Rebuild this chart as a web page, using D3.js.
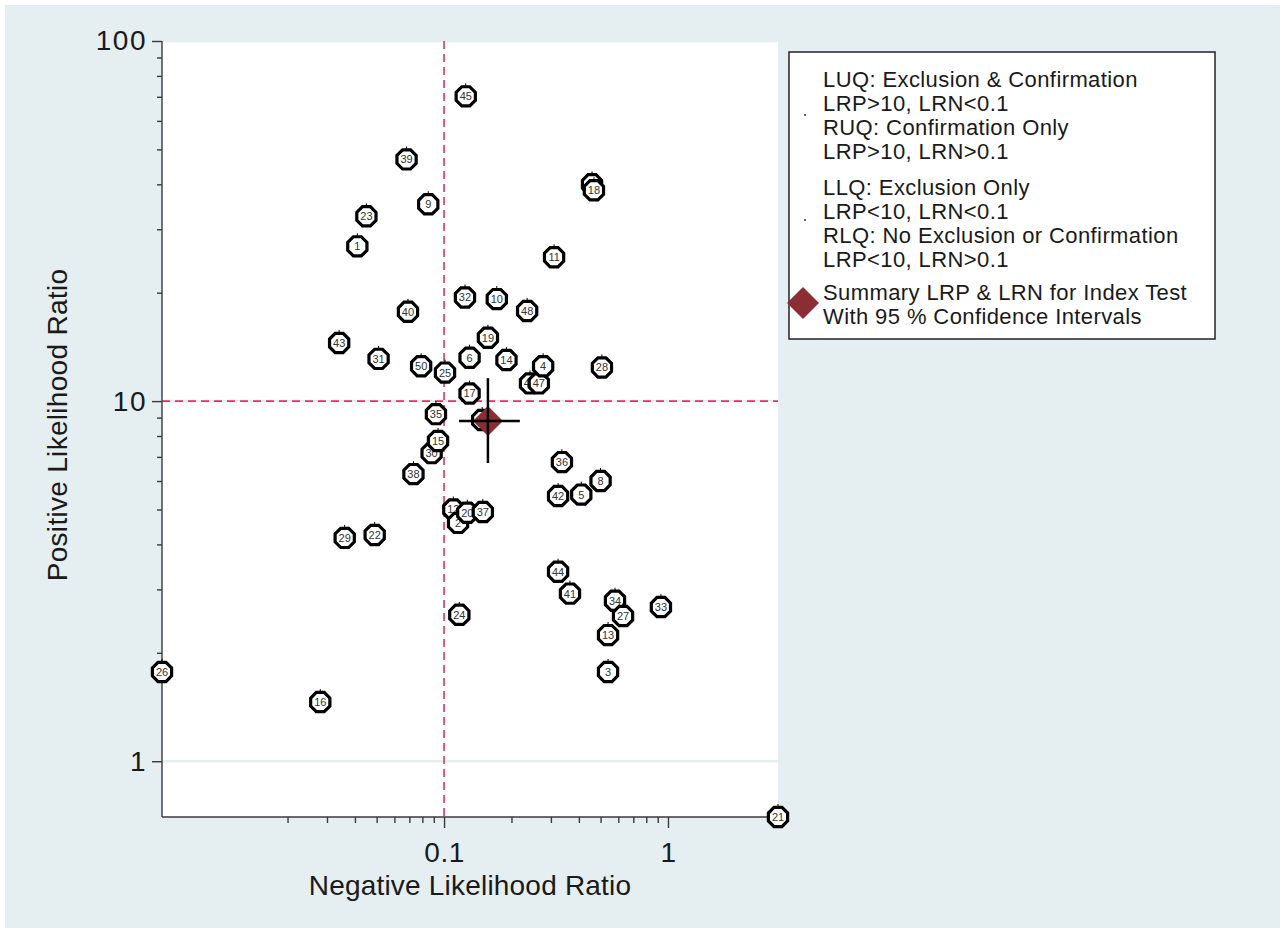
<!DOCTYPE html>
<html>
<head>
<meta charset="utf-8">
<script src="https://cdn.jsdelivr.net/npm/d3@7"></script>
<style>
  html, body { margin: 0; padding: 0; background: #ffffff; }
  svg { display: block; font-family: "Liberation Sans", Arial, Helvetica, sans-serif; }
</style>
</head>
<body>
<svg id="chart" width="1285" height="933"></svg>
<script>
// Study identifiers, in plotting order (later studies are drawn on top)
const studies = [7, 12, 2, 46, 34, 30, 1, 3, 5, 6, 8, 9, 10, 11, 13, 14, 15, 16, 17, 18,
                 19, 20, 21, 22, 23, 24, 25, 26, 27, 28, 29, 31, 32, 33, 35, 36, 37, 38, 39, 40,
                 41, 42, 43, 44, 45, 47, 4, 48, 49, 50];
// Negative likelihood ratio per study
const lrn = [0.458, 0.110, 0.1155, 0.242, 0.58, 0.088, 0.041, 0.54, 0.41, 0.13, 0.50, 0.085, 0.172, 0.31, 0.54, 0.19, 0.094, 0.028, 0.13, 0.467,
             0.157, 0.127, 3.1, 0.049, 0.045, 0.117, 0.101, 0.0055, 0.63, 0.507, 0.036, 0.051, 0.124, 0.93, 0.092, 0.336, 0.149, 0.073, 0.068, 0.069,
             0.365, 0.323, 0.034, 0.323, 0.125, 0.265, 0.277, 0.235, 0.148, 0.079];
// Positive likelihood ratio per study
const lrp = [40.0, 5.0, 4.59, 11.2, 2.79, 7.17, 26.9, 1.77, 5.5, 13.2, 6.0, 35.2, 19.2, 25.1, 2.24, 13.0, 7.75, 1.46, 10.5, 38.5,
             15.0, 4.9, 0.70, 4.25, 32.6, 2.55, 12.0, 1.77, 2.53, 12.4, 4.17, 13.1, 19.4, 2.68, 9.2, 6.77, 4.92, 6.27, 46.9, 17.7,
             2.92, 5.45, 14.5, 3.36, 70.2, 11.2, 12.5, 17.8, 8.86, 12.5];

// Summary estimate with 95% confidence intervals
const summaryLRN = [0.157];
const summaryLRNci = [0.1167, 0.218];
const summaryLRP = [8.8];
const summaryLRPci = [6.73, 11.58];

// Axes
const xDomain = [0.0055, 3.1];
const yDomain = [0.7, 100];
const xMajor = [0.1, 1];
const xMinor = [0.02, 0.03, 0.04, 0.05, 0.06, 0.07, 0.08, 0.09, 0.2, 0.3, 0.4, 0.5, 0.6, 0.7, 0.8, 0.9];
const yMajor = [1, 10, 100];
const yMinor = [2, 3, 4, 5, 6, 7, 8, 9, 20, 30, 40, 50, 60, 70, 80, 90];
const cutLRN = 0.1;
const cutLRP = 10;

const legendLines = [
  ["LUQ: Exclusion & Confirmation", "LRP>10, LRN<0.1", "RUQ: Confirmation Only", "LRP>10, LRN>0.1"],
  ["LLQ: Exclusion Only", "LRP<10, LRN<0.1", "RLQ: No Exclusion or Confirmation", "LRP<10, LRN>0.1"],
  ["Summary LRP & LRN for Index Test", "With 95 % Confidence Intervals"]
];

const svg = d3.select("#chart");
const W = 1285, H = 933;
const plot = { left: 162, right: 778, top: 41, bottom: 817 };

// Graph region background
svg.append("rect").attr("x", 5).attr("y", 5).attr("width", W - 10).attr("height", H - 10)
  .attr("fill", "#e5eef0");
// Plot region
svg.append("rect").attr("x", plot.left).attr("y", plot.top)
  .attr("width", plot.right - plot.left).attr("height", plot.bottom - plot.top)
  .attr("fill", "#ffffff");

const x = d3.scaleLog().domain(xDomain).range([plot.left, plot.right]);
const y = d3.scaleLog().domain(yDomain).range([plot.bottom, plot.top]);

// Horizontal gridlines at major y ticks
svg.append("g").selectAll("line").data(yMajor).join("line")
  .attr("x1", plot.left).attr("x2", plot.right)
  .attr("y1", d => y(d)).attr("y2", d => y(d))
  .attr("stroke", "#e5eef0").attr("stroke-width", 2.5);

// Quadrant cut-off lines
svg.append("line")
  .attr("x1", x(cutLRN)).attr("x2", x(cutLRN)).attr("y1", plot.top).attr("y2", plot.bottom)
  .attr("stroke", "#d9395f").attr("stroke-width", 1.6).attr("stroke-dasharray", "8,5");
svg.append("line")
  .attr("x1", plot.left).attr("x2", plot.right).attr("y1", y(cutLRP)).attr("y2", y(cutLRP))
  .attr("stroke", "#d9395f").attr("stroke-width", 1.6).attr("stroke-dasharray", "8,5");

// Y axis
const yAxisG = svg.append("g").attr("transform", `translate(${plot.left},0)`);
yAxisG.call(d3.axisLeft(y).tickValues(yMajor).tickFormat(d3.format("d")).tickSize(10).tickPadding(5));
yAxisG.append("g").call(d3.axisLeft(y).tickValues(yMinor).tickFormat("").tickSize(5))
  .select(".domain").remove();
yAxisG.selectAll(".domain").attr("d", `M0,${plot.top}V${plot.bottom}`);
yAxisG.selectAll("path, line").attr("stroke", "#3a3a3a").attr("stroke-width", 1.4);
yAxisG.selectAll("text").attr("font-size", 28).attr("fill", "#1a1a1a")
  .attr("font-family", "Liberation Sans, Arial, sans-serif").attr("letter-spacing", 1.5);

// X axis
const xAxisG = svg.append("g").attr("transform", `translate(0,${plot.bottom})`);
xAxisG.call(d3.axisBottom(x).tickValues(xMajor).tickFormat(d => d === 1 ? "1" : "0.1").tickSize(11).tickPadding(14));
xAxisG.append("g").call(d3.axisBottom(x).tickValues(xMinor).tickFormat("").tickSize(6))
  .select(".domain").remove();
xAxisG.selectAll(".domain").attr("d", `M${plot.left},0H${plot.right}`);
xAxisG.selectAll("path, line").attr("stroke", "#3a3a3a").attr("stroke-width", 1.4);
xAxisG.selectAll("text").attr("font-size", 28).attr("fill", "#1a1a1a")
  .attr("font-family", "Liberation Sans, Arial, sans-serif").attr("letter-spacing", 0.5);

// Axis titles
svg.append("text").attr("x", 470).attr("y", 895)
  .attr("text-anchor", "middle").attr("font-size", 28).attr("letter-spacing", 0.2).attr("fill", "#1a1a1a")
  .text("Negative Likelihood Ratio");
svg.append("text").attr("transform", `translate(67,425) rotate(-90)`)
  .attr("text-anchor", "middle").attr("font-size", 28).attr("letter-spacing", 0.3).attr("fill", "#1a1a1a")
  .text("Positive Likelihood Ratio");

// Octagonal study markers
const octagon = (r) => {
  const pts = d3.range(8).map(i => {
    const a = Math.PI / 8 + i * Math.PI / 4;
    return [r * Math.cos(a), r * Math.sin(a)];
  });
  return "M" + pts.map(p => p.join(",")).join("L") + "Z";
};
const pts = studies.map((s, i) => ({ id: s, lrn: lrn[i], lrp: lrp[i] }));
const marks = svg.append("g").selectAll("g").data(pts).join("g")
  .attr("transform", d => `translate(${x(d.lrn)},${y(d.lrp)})`);
marks.append("line").attr("x1", 0).attr("x2", 0).attr("y1", -13).attr("y2", -9)
  .attr("stroke", "#000").attr("stroke-width", 1);
marks.append("path").attr("d", octagon(10.4))
  .attr("fill", "#ffffff").attr("stroke", "#000").attr("stroke-width", 3.2);
marks.append("text").attr("text-anchor", "middle").attr("dy", "0.36em")
  .attr("font-size", 11).attr("fill", "#333").text(d => d.id);

// Summary point with confidence intervals
const sx = x(summaryLRN[0]), sy = y(summaryLRP[0]);
svg.append("path")
  .attr("d", `M${sx},${sy - 15}L${sx + 15},${sy}L${sx},${sy + 15}L${sx - 15},${sy}Z`)
  .attr("fill", "#8b2e33");
svg.append("line").attr("x1", x(summaryLRNci[0])).attr("x2", x(summaryLRNci[1]))
  .attr("y1", sy).attr("y2", sy).attr("stroke", "#000").attr("stroke-width", 2.5);
svg.append("line").attr("x1", sx).attr("x2", sx)
  .attr("y1", y(summaryLRPci[1])).attr("y2", y(summaryLRPci[0]))
  .attr("stroke", "#000").attr("stroke-width", 2.5);

// Legend
const lg = svg.append("g");
lg.append("rect").attr("x", 789).attr("y", 52).attr("width", 426).attr("height", 287)
  .attr("fill", "#ffffff").attr("stroke", "#222").attr("stroke-width", 1.5);
const groupTop = [87, 195, 300];
legendLines.forEach((lines, gi) => {
  lines.forEach((t, li) => {
    lg.append("text").attr("x", 823).attr("y", groupTop[gi] + li * 24)
      .attr("font-size", 22).attr("letter-spacing", 0.4).attr("fill", "#1a1a1a").text(t);
  });
});
lg.append("circle").attr("cx", 805).attr("cy", 115).attr("r", 1).attr("fill", "#333");
lg.append("circle").attr("cx", 805).attr("cy", 220).attr("r", 1).attr("fill", "#333");
lg.append("path").attr("d", "M803,287L819,303L803,319L787,303Z").attr("fill", "#8b2e33");
</script>
</body>
</html>
